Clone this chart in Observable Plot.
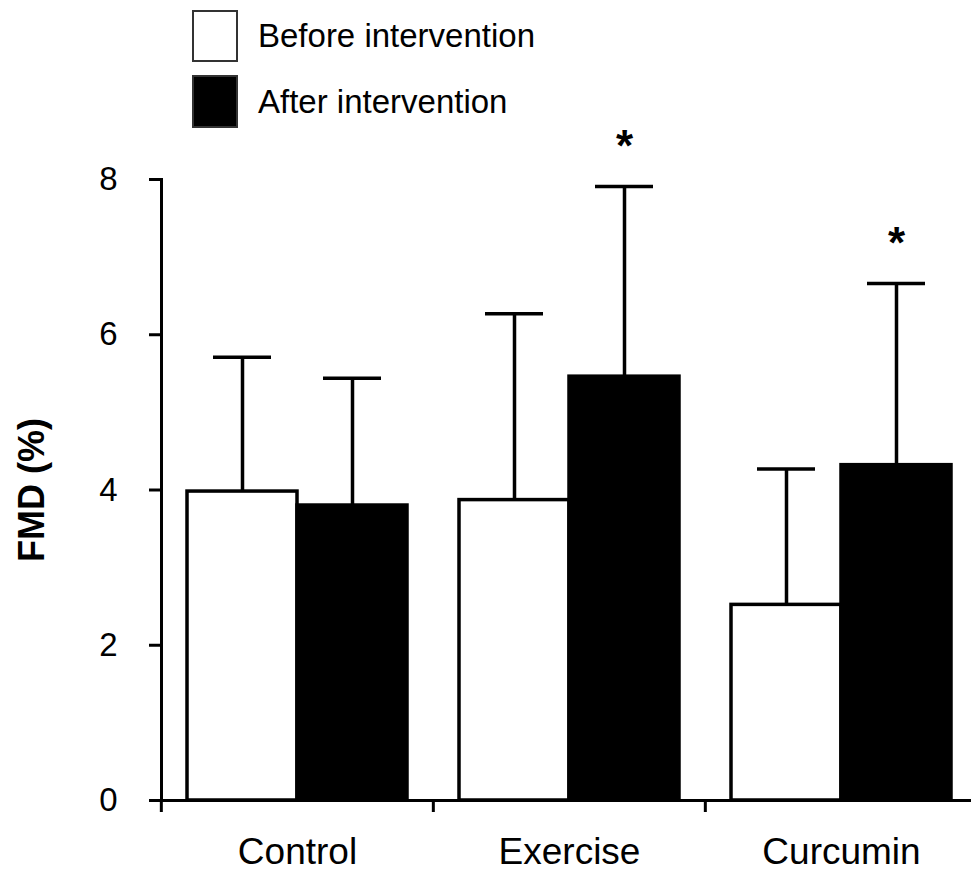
<!DOCTYPE html>
<html><head><meta charset="utf-8">
<script src="https://cdn.jsdelivr.net/npm/d3@7"></script>
<script src="https://cdn.jsdelivr.net/npm/@observablehq/plot@0.6"></script>
<style>
html,body{margin:0;padding:0;background:#fff;overflow:hidden;width:971px;height:872px;}
#legend{position:relative;height:110px;font-family:"Liberation Sans",Arial,sans-serif;font-size:33px;color:#000;z-index:2;}
.item{position:absolute;left:192px;display:flex;align-items:center;}
.sw{width:46px;box-sizing:border-box;}
.lab{margin-left:20px;white-space:nowrap;}
#chart{width:971px;overflow:hidden;position:relative;z-index:1;}
#chart svg{max-width:none !important;}
</style></head><body>
<div id="legend"></div>
<div id="chart"></div>
<script>
const groups = ["Control", "Exercise", "Curcumin"];
const phases = ["Before intervention", "After intervention"];
const beforeMean = [3.98, 3.87, 2.52];
const beforeSD = [1.73, 2.40, 1.75];
const afterMean = [3.80, 5.46, 4.32];
const afterSD = [1.64, 2.45, 2.34];
const significantAfter = ["Exercise", "Curcumin"];
const yTicks = [0, 2, 4, 6, 8];
const phaseColors = ["white", "black"];

const rows = [];
groups.forEach((g, i) => {
  rows.push({group: g, phase: phases[0], mean: beforeMean[i], sd: beforeSD[i], star: false});
  rows.push({group: g, phase: phases[1], mean: afterMean[i], sd: afterSD[i], star: significantAfter.includes(g)});
});

// Legend (HTML, above the SVG)
const legend = document.getElementById("legend");
const legendTops = [10, 75];
const legendHeights = [52, 53];
phases.forEach((p, i) => {
  const item = document.createElement("div");
  item.className = "item";
  item.style.top = legendTops[i] + "px";
  const sw = document.createElement("div");
  sw.className = "sw";
  sw.style.height = legendHeights[i] + "px";
  sw.style.background = phaseColors[i];
  sw.style.border = "2px solid #333";
  const lab = document.createElement("span");
  lab.className = "lab";
  lab.textContent = p;
  item.appendChild(sw);
  item.appendChild(lab);
  legend.appendChild(item);
});

const font = '"Liberation Sans", Arial, sans-serif';
const chart = Plot.plot({
  width: 977, height: 762,
  marginTop: 69, marginBottom: 72, marginLeft: 160, marginRight: 0,
  style: {fontFamily: font, color: "black", background: "transparent", overflow: "visible"},
  fx: {domain: groups, padding: 0, label: null},
  x: {domain: phases, paddingInner: 0, paddingOuter: 0.23, axis: null},
  y: {domain: [0, 8], axis: null},
  color: {domain: phases, range: phaseColors},
  marks: [
    Plot.barY(rows, {fx: "group", x: "phase", y: "mean", fill: "phase", stroke: "black", strokeWidth: 3.5}),
    Plot.ruleX(rows, {fx: "group", x: "phase", y1: "mean", y2: d => d.mean + d.sd, stroke: "black", strokeWidth: 3.5}),
    Plot.tickY(rows, {fx: "group", x: "phase", y: d => d.mean + d.sd, stroke: "black", strokeWidth: 3.5, insetLeft: 26, insetRight: 26}),
    Plot.text(rows.filter(d => d.star), {fx: "group", x: "phase", y: d => d.mean + d.sd, text: () => "*", dy: -40, fontSize: 44, fontWeight: "bold"}),
    Plot.frame({anchor: "left", facet: "super", strokeWidth: 3}),
    Plot.frame({anchor: "bottom", facet: "super", strokeWidth: 3}),
    Plot.axisY({ticks: yTicks, tickSize: 12, tickPadding: 32, fontSize: 33, strokeWidth: 3, label: null}),
    Plot.axisY({ticks: [], label: "FMD (%)", labelAnchor: "center", labelArrow: "none", labelOffset: 143, fontSize: 36, fontWeight: "bold"}),
    Plot.axisFx({anchor: "bottom", tickSize: 0, tickPadding: 37, fontSize: 37, label: null}),
    Plot.axisFx({anchor: "bottom", tickSize: 12, tickFormat: () => "", dx: -817 / 6, strokeWidth: 3, label: null})
  ]
});
document.getElementById("chart").appendChild(chart);
</script>
</body></html>
